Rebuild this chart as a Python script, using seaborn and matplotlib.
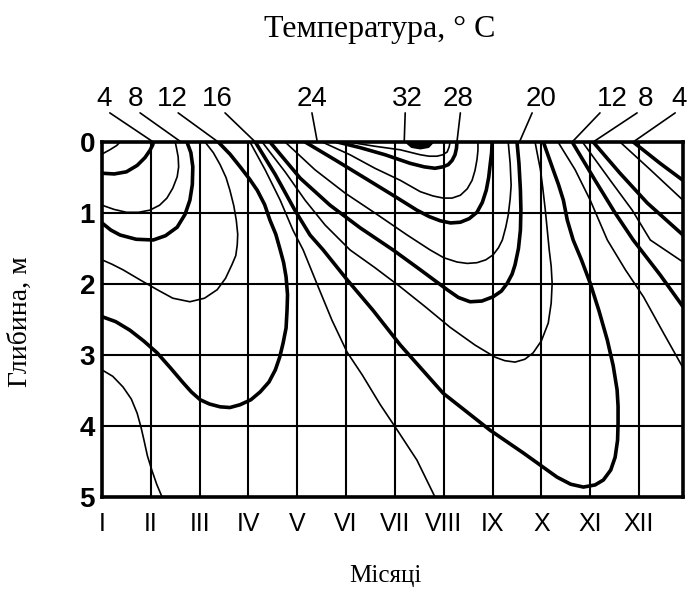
import matplotlib
matplotlib.use("Agg")
import logging
logging.getLogger("matplotlib.font_manager").setLevel(logging.ERROR)
import matplotlib.pyplot as plt
import seaborn as sns
import pandas as pd

# ---- axis categories / ticks ----
months = ["I", "II", "III", "IV", "V", "VI", "VII", "VIII", "IX", "X", "XI", "XII"]
depth_ticks = [0, 1, 2, 3, 4, 5]

# ---- isotherms: (month, depth in m) ----
iso_2 = [(0, 0.17), (0.16, 0.11), (0.30, 0.05), (0.37, 0)]
iso_4_left = [(0, 0.44), (0.25, 0.45), (0.5, 0.42), (0.72, 0.33), (0.88, 0.22), (0.98, 0.12),
              (1.04, 0.04), (1.05, 0)]
iso_6_left = [(0, 0.89), (0.25, 0.95), (0.5, 0.99), (0.75, 0.99), (0.98, 0.96), (1.18, 0.89),
              (1.33, 0.79), (1.45, 0.65), (1.54, 0.49), (1.57, 0.35), (1.56, 0.21), (1.53, 0.10), (1.50, 0)]
iso_8_left = [(0, 1.14), (0.18, 1.24), (0.37, 1.31), (0.7, 1.37), (1.05, 1.38), (1.3, 1.32),
              (1.54, 1.20), (1.70, 1.02), (1.80, 0.82), (1.85, 0.6), (1.86, 0.35), (1.82, 0.15), (1.74, 0)]
iso_10_left = [(2.11, 0), (2.28, 0.15), (2.42, 0.32), (2.54, 0.50), (2.62, 0.68), (2.70, 0.9),
               (2.75, 1.10), (2.78, 1.30), (2.77, 1.45), (2.74, 1.60), (2.66, 1.73), (2.53, 1.92),
               (2.36, 2.08), (2.1, 2.2), (1.80, 2.25), (1.45, 2.2), (1.13, 2.08), (0.8, 1.95),
               (0.43, 1.80), (0.2, 1.72), (0, 1.66)]
iso_12_left = [(2.38, 0), (2.62, 0.17), (2.83, 0.35), (3.02, 0.52), (3.18, 0.68), (3.33, 0.88),
               (3.44, 1.10), (3.56, 1.30), (3.65, 1.52), (3.72, 1.70), (3.77, 1.90), (3.80, 2.15),
               (3.79, 2.37), (3.77, 2.62), (3.71, 2.83), (3.64, 3.03), (3.55, 3.21), (3.42, 3.38),
               (3.24, 3.52), (3.05, 3.63), (2.83, 3.70), (2.62, 3.74), (2.42, 3.73), (2.2, 3.69),
               (2.01, 3.63), (1.83, 3.52), (1.66, 3.39), (1.4, 3.18), (1.13, 2.97), (0.85, 2.80),
               (0.57, 2.65), (0.28, 2.53), (0, 2.46)]
iso_14_left = [(0, 3.21), (0.22, 3.30), (0.43, 3.45), (0.60, 3.62), (0.72, 3.82), (0.80, 4.02),
               (0.86, 4.20), (0.93, 4.42), (1.02, 4.62), (1.12, 4.82), (1.23, 5.0)]
iso_14_mid = [(3.03, 0), (3.34, 0.39), (3.65, 0.82), (3.91, 1.24), (4.12, 1.52), (4.41, 2.01),
              (4.71, 2.51), (5.02, 2.96), (5.33, 3.28), (5.70, 3.70), (6.05, 4.06), (6.45, 4.48), (6.82, 5.0)]
iso_16 = [(3.14, 0), (3.55, 0.46), (3.95, 0.96), (4.26, 1.31), (4.53, 1.52), (5.02, 1.94), (5.55, 2.37),
          (6.11, 2.86), (6.99, 3.54), (7.95, 4.06), (8.63, 4.38), (9.32, 4.72), (9.60, 4.82), (9.86, 4.86),
          (10.10, 4.83), (10.27, 4.76), (10.42, 4.62), (10.51, 4.44), (10.56, 4.20), (10.57, 3.96),
          (10.57, 3.72), (10.55, 3.49), (10.47, 3.15), (10.35, 2.79), (10.18, 2.38), (10.0, 1.99),
          (9.82, 1.66), (9.65, 1.38), (9.53, 1.10), (9.45, 0.82), (9.35, 0.60), (9.24, 0.39), (9.04, 0)]
iso_18 = [(3.28, 0), (3.75, 0.42), (4.16, 0.82), (4.57, 1.17), (5.08, 1.52), (5.59, 1.77), (6.11, 2.04),
          (6.62, 2.32), (7.13, 2.61), (7.64, 2.86), (8.05, 3.03), (8.25, 3.08), (8.46, 3.10), (8.66, 3.06),
          (8.83, 2.97), (9.0, 2.80), (9.14, 2.55), (9.20, 2.27), (9.22, 1.99), (9.20, 1.75),
          (9.16, 1.52), (9.12, 1.24), (9.08, 0.96), (9.03, 0.66), (8.98, 0.39), (8.92, 0.18), (8.87, 0)]
iso_20 = [(3.44, 0), (4.06, 0.51), (4.67, 0.89), (5.29, 1.21), (5.96, 1.52), (6.52, 1.80), (7.07, 2.08),
          (7.30, 2.19), (7.54, 2.25), (7.78, 2.24), (8.01, 2.18), (8.18, 2.10), (8.30, 1.99),
          (8.40, 1.86), (8.46, 1.73), (8.53, 1.50), (8.57, 1.24), (8.58, 0.95), (8.57, 0.68),
          (8.54, 0.30), (8.50, 0)]
iso_22 = [(3.75, 0), (4.36, 0.39), (4.98, 0.72), (5.59, 1.0), (6.25, 1.31), (6.72, 1.52), (7.00, 1.63),
          (7.27, 1.69), (7.48, 1.71), (7.68, 1.70), (7.86, 1.66), (8.01, 1.59), (8.12, 1.49),
          (8.20, 1.38), (8.27, 1.20), (8.32, 1.03), (8.36, 0.80), (8.38, 0.61), (8.36, 0.30), (8.32, 0)]
iso_24 = [(4.16, 0), (4.77, 0.25), (5.39, 0.51), (5.96, 0.75), (6.45, 0.96), (6.70, 1.05), (6.93, 1.11),
          (7.14, 1.14), (7.34, 1.13), (7.52, 1.08), (7.68, 0.99), (7.79, 0.85), (7.87, 0.68),
          (7.92, 0.50), (7.95, 0.32), (7.98, 0.15), (7.99, 0)]
iso_26 = [(4.51, 0), (5.08, 0.18), (5.59, 0.37), (6.11, 0.54), (6.52, 0.70), (6.78, 0.76), (6.99, 0.79),
          (7.17, 0.79), (7.34, 0.75), (7.48, 0.66), (7.58, 0.54), (7.64, 0.40), (7.68, 0.25),
          (7.70, 0.12), (7.70, 0)]
iso_28 = [(4.82, 0), (5.29, 0.08), (5.80, 0.18), (6.31, 0.30), (6.60, 0.35), (6.82, 0.37), (6.98, 0.35),
          (7.09, 0.32), (7.17, 0.26), (7.23, 0.18), (7.26, 0.09), (7.27, 0)]
iso_30 = [(5.04, 0), (5.59, 0.06), (6.11, 0.11), (6.52, 0.18), (6.70, 0.20), (6.86, 0.20), (6.98, 0.18),
          (7.07, 0.14), (7.11, 0.07), (7.13, 0)]
iso_32 = [(6.25, 0), (6.35, 0.06), (6.52, 0.08), (6.68, 0.06), (6.76, 0)]
iso_12_right = [(9.63, 0), (10.10, 0.54), (10.51, 1.0), (10.88, 1.38), (11.43, 1.87), (11.9, 2.32)]
iso_10_right = [(9.84, 0), (10.41, 0.54), (10.86, 0.96), (11.23, 1.38), (11.9, 1.69)]
iso_8_right = [(10.06, 0), (10.61, 0.44), (11.17, 0.86), (11.9, 1.31)]
iso_6_right = [(10.61, 0), (11.23, 0.39), (11.9, 0.82)]
iso_4_right = [(10.88, 0), (11.43, 0.30), (11.9, 0.54)]
iso_14_right = [(9.34, 0), (9.69, 0.39), (10.0, 0.82), (10.35, 1.38), (10.72, 1.80), (11.09, 2.18),
                (11.5, 2.69), (11.9, 3.18)]

isotherms = [
    (2, "thin", iso_2), (4, "thick", iso_4_left), (6, "thin", iso_6_left), (8, "thick", iso_8_left),
    (10, "thin", iso_10_left), (12, "thick", iso_12_left), (14, "thin", iso_14_left),
    (14, "thin", iso_14_mid), (16, "thick", iso_16), (18, "thin", iso_18), (20, "thick", iso_20),
    (22, "thin", iso_22), (24, "thick", iso_24), (26, "thin", iso_26), (28, "thick", iso_28),
    (30, "thin", iso_30), (32, "thick", iso_32), (12, "thick", iso_12_right), (10, "thin", iso_10_right),
    (8, "thick", iso_8_right), (6, "thin", iso_6_right), (4, "thick", iso_4_right),
    (14, "thin", iso_14_right),
]

# labels above the chart: text, month of text, month where leader meets the isotherm
label_texts = ["4", "8", "12", "16", "24", "32", "28", "20", "12", "8", "4"]
label_months = [0.04, 0.68, 1.43, 2.36, 4.30, 6.25, 7.30, 9.0, 10.45, 11.13, 11.82]
leader_from = [0.16, 0.78, 1.56, 2.52, 4.30, 6.21, 7.34, 8.81, 10.2, 10.96, 11.74]
leader_to = [1.05, 1.62, 2.38, 3.14, 4.41, 6.19, 7.27, 8.55, 9.63, 10.06, 10.88]

# ---------------------------------------------------------------
sns.set_theme(style="white")
plt.rcParams["font.family"] = ["DejaVu Sans"]
narrow = ["Liberation Sans Narrow", "Liberation Sans", "DejaVu Sans"]
serif = ["Liberation Serif", "DejaVu Serif"]

W, H = 692, 591
fig = plt.figure(figsize=(W / 100, H / 100), dpi=100)
ax = fig.add_axes([102 / W, 1 - 497 / H, (683 - 102) / W, (497 - 142) / H])

rows = []
for i, (t, w, pts) in enumerate(isotherms):
    for m, d in pts:
        rows.append({"seg": i, "temp": t, "width": w, "month": m, "depth": d})
df = pd.DataFrame(rows)

for w, lw in [("thin", 1.2), ("thick", 2.6)]:
    sub = df[df["width"] == w]
    sns.lineplot(data=sub, x="month", y="depth", units="seg", estimator=None, sort=False,
                 color="black", lw=lw, ax=ax, legend=False,
                 solid_joinstyle="round", solid_capstyle="round", zorder=3)

blob = df[df["temp"] == 32]
ax.fill(blob["month"], blob["depth"], color="black", zorder=3)

ax.set_xlim(0, 11.9)
ax.set_ylim(5, 0)
ax.set_xticks(range(len(months)))
ax.set_xticklabels(months)
ax.set_yticks(depth_ticks)
ax.set_yticklabels([str(v) for v in depth_ticks])
ax.set_xlabel("")
ax.set_ylabel("")
ax.grid(True, color="black", lw=1.5)
ax.set_axisbelow(True)
for s in ax.spines.values():
    s.set_visible(True)
    s.set_color("black")
    s.set_linewidth(2.6)
ax.tick_params(axis="both", length=0)
ax.tick_params(axis="x", pad=11)
ax.tick_params(axis="y", pad=5)
for lab in ax.get_xticklabels():
    lab.set_family(narrow)
    lab.set_fontsize(18)
    lab.set_color("black")
for lab in ax.get_yticklabels():
    lab.set_family(narrow)
    lab.set_fontsize(20)
    lab.set_fontweight("bold")
    lab.set_color("black")

# top labels with leader lines
for txt, xm, x0, x1 in zip(label_texts, label_months, leader_from, leader_to):
    ax.text(xm, -0.6, txt, ha="center", va="center", fontsize=20, family=narrow,
            color="black", clip_on=False)
    ax.plot([x0, x1], [-0.41, 0], color="black", lw=1.2, clip_on=False)

fig.text(380 / W, 1 - 30 / H, "Температура, ° С", ha="center", va="center", fontsize=23,
         family=serif, color="black")
fig.text(20 / W, 1 - 322 / H, "Глибина, м", ha="center", va="center", rotation=90, fontsize=20,
         family=serif, color="black")
fig.text(385 / W, 1 - 576 / H, "Місяці", ha="center", va="center", fontsize=18,
         family=serif, color="black")

fig.savefig("out.png", dpi=100, facecolor="white")
